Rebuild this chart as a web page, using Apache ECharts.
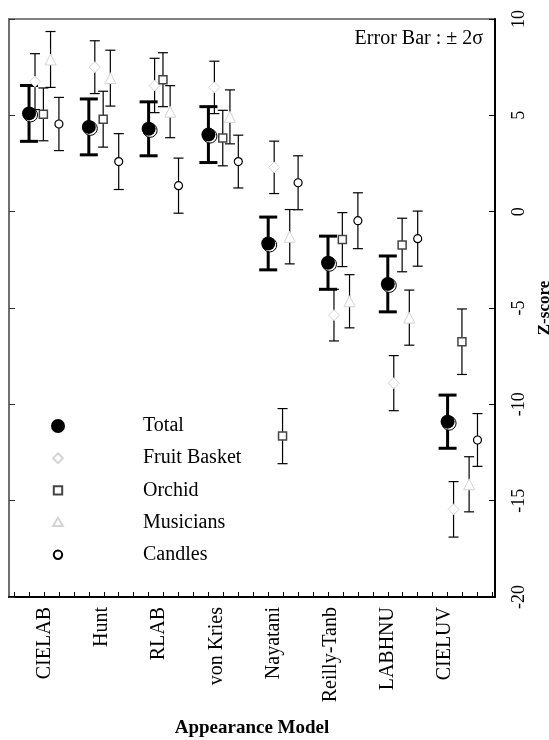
<!DOCTYPE html>
<html>
<head>
<meta charset="utf-8">
<title>Appearance Model Z-scores</title>
<script src="https://cdn.jsdelivr.net/npm/echarts@6/dist/echarts.min.js"></script>
<style>
  html, body { margin: 0; padding: 0; background: #fff; }
  #chart { width: 549px; height: 740px; }
</style>
</head>
<body>
<div id="chart"></div>
<script>
// appearance models along the x axis
const models = ['CIELAB', 'Hunt', 'RLAB', 'von Kries', 'Nayatani', 'Reilly-Tanb', 'LABHNU', 'CIELUV']

// z-scores and error bar half widths (2 sigma)
const total = [5.1, 4.4, 4.3, 4.0, -1.65, -2.65, -3.75, -10.9]
const totalErr = [1.45, 1.45, 1.4, 1.45, 1.37, 1.38, 1.45, 1.38]
const fruit = [6.75, 7.5, 6.55, 6.45, 2.3, -5.37, -8.9, -15.45]
const fruitErr = [1.45, 1.37, 1.41, 1.36, 1.36, 1.34, 1.43, 1.44]
const orchid = [5.05, 4.8, 6.85, 3.82, -11.65, -1.45, -1.73, -6.75]
const orchidErr = [1.37, 1.45, 1.4, 1.44, 1.43, 1.4, 1.39, 1.7]
const musicians = [7.9, 6.93, 5.19, 4.92, -1.3, -4.65, -5.5, -14.15]
const musiciansErr = [1.45, 1.45, 1.35, 1.4, 1.41, 1.38, 1.43, 1.43]
const candles = [4.55, 2.6, 1.35, 2.6, 1.5, -0.47, -1.4, -11.85]
const candlesErr = [1.38, 1.45, 1.43, 1.37, 1.4, 1.45, 1.43, 1.37]

// z-score axis ticks
const zTicks = [-20, -15, -10, -5, 0, 5, 10]

const font = 'Liberation Serif'
const light = '#d4d4d4'

// small ticks along the bottom edge, every quarter of a group
const minorTicks = []
for (let t = 0.75; t <= 8.76; t += 0.25) minorTicks.push(t)

function points(vals, errs, off) {
  return vals.map((v, i) => [i + 1 + off, v, errs[i]])
}

function errorBars(capW, lw) {
  return function (params, api) {
    const x = api.value(0)
    const y = api.value(1)
    const e = api.value(2)
    const hi = api.coord([x, y + e])
    const lo = api.coord([x, y - e])
    const style = { stroke: '#000', lineWidth: lw }
    return {
      type: 'group',
      children: [
        { type: 'line', shape: { x1: hi[0], y1: hi[1], x2: lo[0], y2: lo[1] }, style },
        { type: 'line', shape: { x1: hi[0] - capW / 2, y1: hi[1], x2: hi[0] + capW / 2, y2: hi[1] }, style },
        { type: 'line', shape: { x1: lo[0] - capW / 2, y1: lo[1], x2: lo[0] + capW / 2, y2: lo[1] }, style }
      ]
    }
  }
}

function barSeries(name, vals, errs, off, capW, lw) {
  return {
    name: name,
    type: 'custom',
    renderItem: errorBars(capW, lw),
    encode: { x: 0, y: 1 },
    data: points(vals, errs, off),
    silent: true,
    z: 2
  }
}

const chart = echarts.init(document.getElementById('chart'))

chart.setOption({
  animation: false,
  backgroundColor: '#fff',
  grid: {
    left: 9,
    right: 54,
    top: 19,
    bottom: 143,
    show: true,
    borderColor: '#808080',
    borderWidth: 2,
    containLabel: false,
    outerBoundsMode: 'none'
  },
  legend: {
    orient: 'vertical',
    left: 50,
    top: 416,
    padding: 0,
    itemWidth: 14,
    itemHeight: 14,
    itemGap: 12.2,
    selectedMode: false,
    textStyle: {
      fontFamily: font,
      fontSize: 20,
      lineHeight: 20,
      color: '#000',
      padding: [0, 0, 0, 73]
    },
    data: [
      { name: 'Total', icon: 'circle' },
      { name: 'Fruit Basket', icon: 'path://M0,0M20,20M10,3L17,10L10,17L3,10Z' },
      { name: 'Orchid', icon: 'path://M0,0M20,20M4,4H16V16H4Z' },
      { name: 'Musicians', icon: 'path://M0,0M20,20M10,3L17,15H3Z' },
      { name: 'Candles', icon: 'path://M0,0M20,20M10,4A6,6 0 1 1 9.99,4Z' }
    ]
  },
  graphic: [{
    type: 'text',
    right: 66,
    top: 29,
    style: {
      text: 'Error Bar : \u00b1 2\u03c3',
      font: '20px "Liberation Serif"',
      fill: '#000'
    }
  }],
  xAxis: [{
    // data axis: group k sits at k
    type: 'value',
    position: 'bottom',
    min: 0.665,
    max: 8.793,
    axisLine: { onZero: false, lineStyle: { color: '#000', width: 2 } },
    axisTick: { inside: true, length: 5, customValues: minorTicks, lineStyle: { color: '#000' } },
    axisLabel: { show: false },
    splitLine: { show: false }
  }, {
    // label axis, the model names are spaced a bit tighter than the groups
    type: 'value',
    position: 'bottom',
    min: 0.3695,
    max: 8.881,
    axisLine: { show: false, onZero: false },
    axisTick: { show: false },
    splitLine: { show: false },
    axisLabel: {
      customValues: models.map((m, i) => i + 1),
      formatter: v => models[Math.round(v) - 1],
      rotate: 90,
      margin: 10,
      fontFamily: font,
      fontSize: 20,
      color: '#000'
    },
    name: 'Appearance Model',
    nameLocation: 'middle',
    nameGap: 122,
    nameTextStyle: { fontFamily: font, fontSize: 19, fontWeight: 'bold', color: '#000' }
  }],
  yAxis: [{
    type: 'value',
    position: 'right',
    min: zTicks[0],
    max: zTicks[zTicks.length - 1],
    interval: 5,
    axisLine: { show: true, onZero: false, lineStyle: { color: '#000', width: 2 } },
    axisTick: { show: true, inside: true, length: 6, lineStyle: { color: '#000' } },
    axisLabel: { rotate: 90, margin: 15, fontFamily: font, fontSize: 18, color: '#000' },
    splitLine: { show: false },
    name: 'Z-score',
    nameLocation: 'middle',
    nameRotate: 90,
    nameGap: 34,
    nameTextStyle: { fontFamily: font, fontSize: 17, fontWeight: 'bold', color: '#000' }
  }, {
    type: 'value',
    position: 'left',
    min: zTicks[0],
    max: zTicks[zTicks.length - 1],
    interval: 5,
    axisLine: { show: true, onZero: false, lineStyle: { color: '#707070', width: 2 } },
    axisTick: { show: true, inside: true, length: 6, lineStyle: { color: '#333' } },
    axisLabel: { show: false },
    splitLine: { show: false }
  }],
  series: [
    barSeries('Total bars', total, totalErr, 0, 18, 3),
    barSeries('Fruit bars', fruit, fruitErr, 0.1, 10, 1.2),
    barSeries('Orchid bars', orchid, orchidErr, 0.24, 10, 1.2),
    barSeries('Musicians bars', musicians, musiciansErr, 0.36, 10, 1.2),
    barSeries('Candles bars', candles, candlesErr, 0.5, 10, 1.2),
    {
      name: 'Total rim',
      type: 'scatter',
      symbol: 'circle',
      symbolSize: 14,
      symbolOffset: [1.5, 1.5],
      itemStyle: { color: '#fff', borderColor: '#000', borderWidth: 1, opacity: 1 },
      data: points(total, totalErr, 0),
      silent: true,
      z: 3
    },
    {
      name: 'Total',
      type: 'scatter',
      symbol: 'circle',
      symbolSize: 14,
      itemStyle: { color: '#000', opacity: 1 },
      data: points(total, totalErr, 0),
      z: 4
    },
    {
      name: 'Fruit Basket',
      type: 'scatter',
      symbol: 'diamond',
      symbolSize: 11,
      itemStyle: { color: '#fff', borderColor: light, borderWidth: 1, opacity: 1 },
      data: points(fruit, fruitErr, 0.1),
      z: 4
    },
    {
      name: 'Orchid',
      type: 'scatter',
      symbol: 'rect',
      symbolSize: 8,
      itemStyle: { color: '#fff', borderColor: '#444', borderWidth: 1.5, opacity: 1 },
      data: points(orchid, orchidErr, 0.24),
      z: 4
    },
    {
      name: 'Musicians',
      type: 'scatter',
      symbol: 'triangle',
      symbolSize: 11,
      itemStyle: { color: '#fff', borderColor: light, borderWidth: 1, opacity: 1 },
      data: points(musicians, musiciansErr, 0.36),
      z: 4
    },
    {
      name: 'Candles',
      type: 'scatter',
      symbol: 'circle',
      symbolSize: 8,
      itemStyle: { color: '#fff', borderColor: '#000', borderWidth: 1.2, opacity: 1 },
      data: points(candles, candlesErr, 0.5),
      z: 4
    }
  ]
})
</script>
</body>
</html>
